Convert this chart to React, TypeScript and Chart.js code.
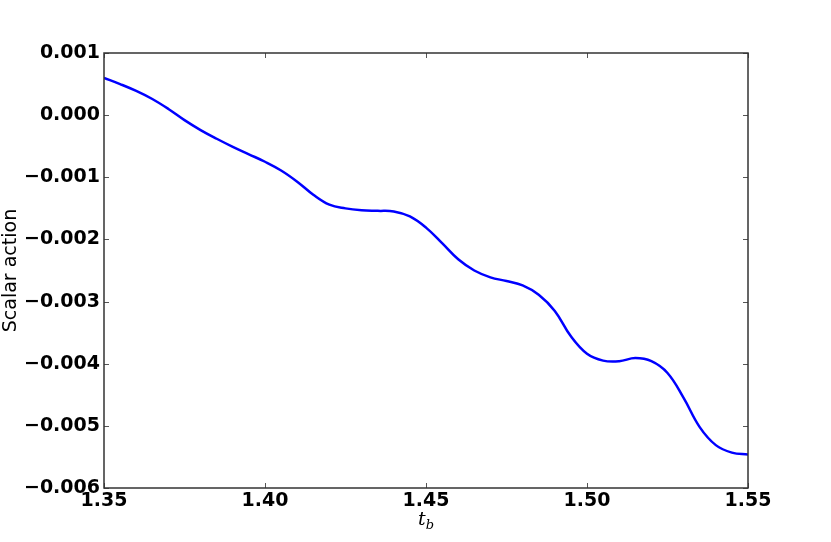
import React, { useEffect, useRef } from "react";
import { Chart, registerables } from "chart.js";

Chart.register(...registerables);

const tValues = [
  1.35, 1.355, 1.36, 1.365, 1.37, 1.375, 1.38, 1.385, 1.39, 1.395, 1.4, 1.405, 1.41, 1.415,
  1.42, 1.425, 1.43, 1.435, 1.44, 1.445, 1.45, 1.455, 1.46, 1.465, 1.47, 1.475, 1.48, 1.485,
  1.49, 1.495, 1.5, 1.505, 1.51, 1.515, 1.52, 1.525, 1.53, 1.535, 1.54, 1.545, 1.55,
];
const actionValues = [
  0.0006, 0.0005, 0.00039, 0.00026, 0.0001, -0.00008, -0.00024, -0.00038, -0.00051, -0.00063,
  -0.00075, -0.00089, -0.00107, -0.00128, -0.00144, -0.0015, -0.00153, -0.00154, -0.00155,
  -0.00163, -0.00181, -0.00206, -0.00232, -0.0025, -0.00261, -0.00267, -0.00274, -0.00289,
  -0.00315, -0.00356, -0.00384, -0.00395, -0.00396, -0.00391, -0.00396, -0.00415, -0.00455,
  -0.00502, -0.00531, -0.00543, -0.00546,
];
const xTicks = [1.35, 1.4, 1.45, 1.5, 1.55];
const yTicks = [0.001, 0, -0.001, -0.002, -0.003, -0.004, -0.005, -0.006];
const yLabel = "Scalar action";
const xLabelMain = "t";
const xLabelSub = "b";

const fmtY = (v: number) => {
  const s = Math.abs(v) < 1e-12 ? "0.000" : v.toFixed(3);
  return s.replace("-", "\u2212");
};

const framePlugin = {
  id: "mplFrame",
  afterDraw(chart: any) {
    const { ctx, chartArea } = chart;
    const { left, right, top, bottom } = chartArea;
    const xs = chart.scales.x;
    const ys = chart.scales.y;
    ctx.save();
    ctx.strokeStyle = "#555555";
    ctx.lineWidth = 1;
    const tl = 5;
    ctx.beginPath();
    xTicks.forEach((t) => {
      const px = Math.round(xs.getPixelForValue(t)) + 0.5;
      ctx.moveTo(px, bottom);
      ctx.lineTo(px, bottom - tl);
      ctx.moveTo(px, top);
      ctx.lineTo(px, top + tl);
    });
    yTicks.forEach((v) => {
      const py = Math.round(ys.getPixelForValue(v)) + 0.5;
      ctx.moveTo(left, py);
      ctx.lineTo(left + tl, py);
      ctx.moveTo(right, py);
      ctx.lineTo(right - tl, py);
    });
    ctx.stroke();
    ctx.lineWidth = 1.5;
    ctx.strokeStyle = "#333333";
    ctx.strokeRect(left, top, right - left, bottom - top);
    const cx = (left + right) / 2;
    ctx.fillStyle = "#000000";
    ctx.textBaseline = "alphabetic";
    ctx.font = "italic 19px 'DejaVu Serif'";
    const wMain = ctx.measureText(xLabelMain).width;
    ctx.font = "italic 13px 'DejaVu Serif'";
    const wSub = ctx.measureText(xLabelSub).width;
    const startX = cx - (wMain + wSub) / 2;
    ctx.font = "italic 19px 'DejaVu Serif'";
    ctx.textAlign = "left";
    ctx.fillText(xLabelMain, startX, 525);
    ctx.font = "italic 13px 'DejaVu Serif'";
    ctx.fillText(xLabelSub, startX + wMain, 529);
    ctx.restore();
  },
};

export default function App() {
  const ref = useRef<HTMLCanvasElement>(null);
  useEffect(() => {
    if (!ref.current) return;
    const chart = new Chart(ref.current, {
      type: "line",
      data: {
        datasets: [
          {
            data: tValues.map((t, i) => ({ x: t, y: actionValues[i] })),
            borderColor: "#0000ff",
            borderWidth: 2.5,
            pointRadius: 0,
            fill: false,
            tension: 0.4,
          },
        ],
      },
      options: {
        animation: false,
        responsive: false,
        layout: { padding: { left: 0, right: 83, top: 53, bottom: 0 } },
        plugins: { legend: { display: false }, tooltip: { enabled: false } },
        scales: {
          x: {
            type: "linear",
            min: 1.35,
            max: 1.55,
            afterBuildTicks: (scale: any) => {
              scale.ticks = xTicks.map((v) => ({ value: v }));
            },
            afterFit: (scale: any) => {
              scale.height = 54;
            },
            grid: { display: false, drawTicks: false },
            border: { display: false },
            ticks: {
              padding: 2,
              color: "#000000",
              font: { family: "'DejaVu Sans'", size: 19, weight: "bold" },
              callback: (v: any) => Number(v).toFixed(2),
              maxRotation: 0,
              autoSkip: false,
            },
          },
          y: {
            type: "linear",
            min: -0.006,
            max: 0.001,
            afterBuildTicks: (scale: any) => {
              scale.ticks = yTicks.map((v) => ({ value: v }));
            },
            afterFit: (scale: any) => {
              scale.width = 104;
            },
            grid: { display: false, drawTicks: false },
            border: { display: false },
            title: {
              display: true,
              text: yLabel,
              color: "#000000",
              font: { family: "'DejaVu Sans'", size: 19, weight: "normal" },
              padding: { top: 0, bottom: 0 },
            },
            ticks: {
              padding: 4,
              color: "#000000",
              font: { family: "'DejaVu Sans'", size: 19, weight: "bold" },
              callback: (v: any) => fmtY(Number(v)),
              autoSkip: false,
            },
          },
        },
      },
      plugins: [framePlugin],
    } as any);
    return () => chart.destroy();
  }, []);
  return (
    <div style={{ position: "fixed", left: 0, top: 0, width: 831, height: 542, background: "#fff" }}>
      <canvas ref={ref} width={831} height={542} style={{ display: "block" }} />
    </div>
  );
}
